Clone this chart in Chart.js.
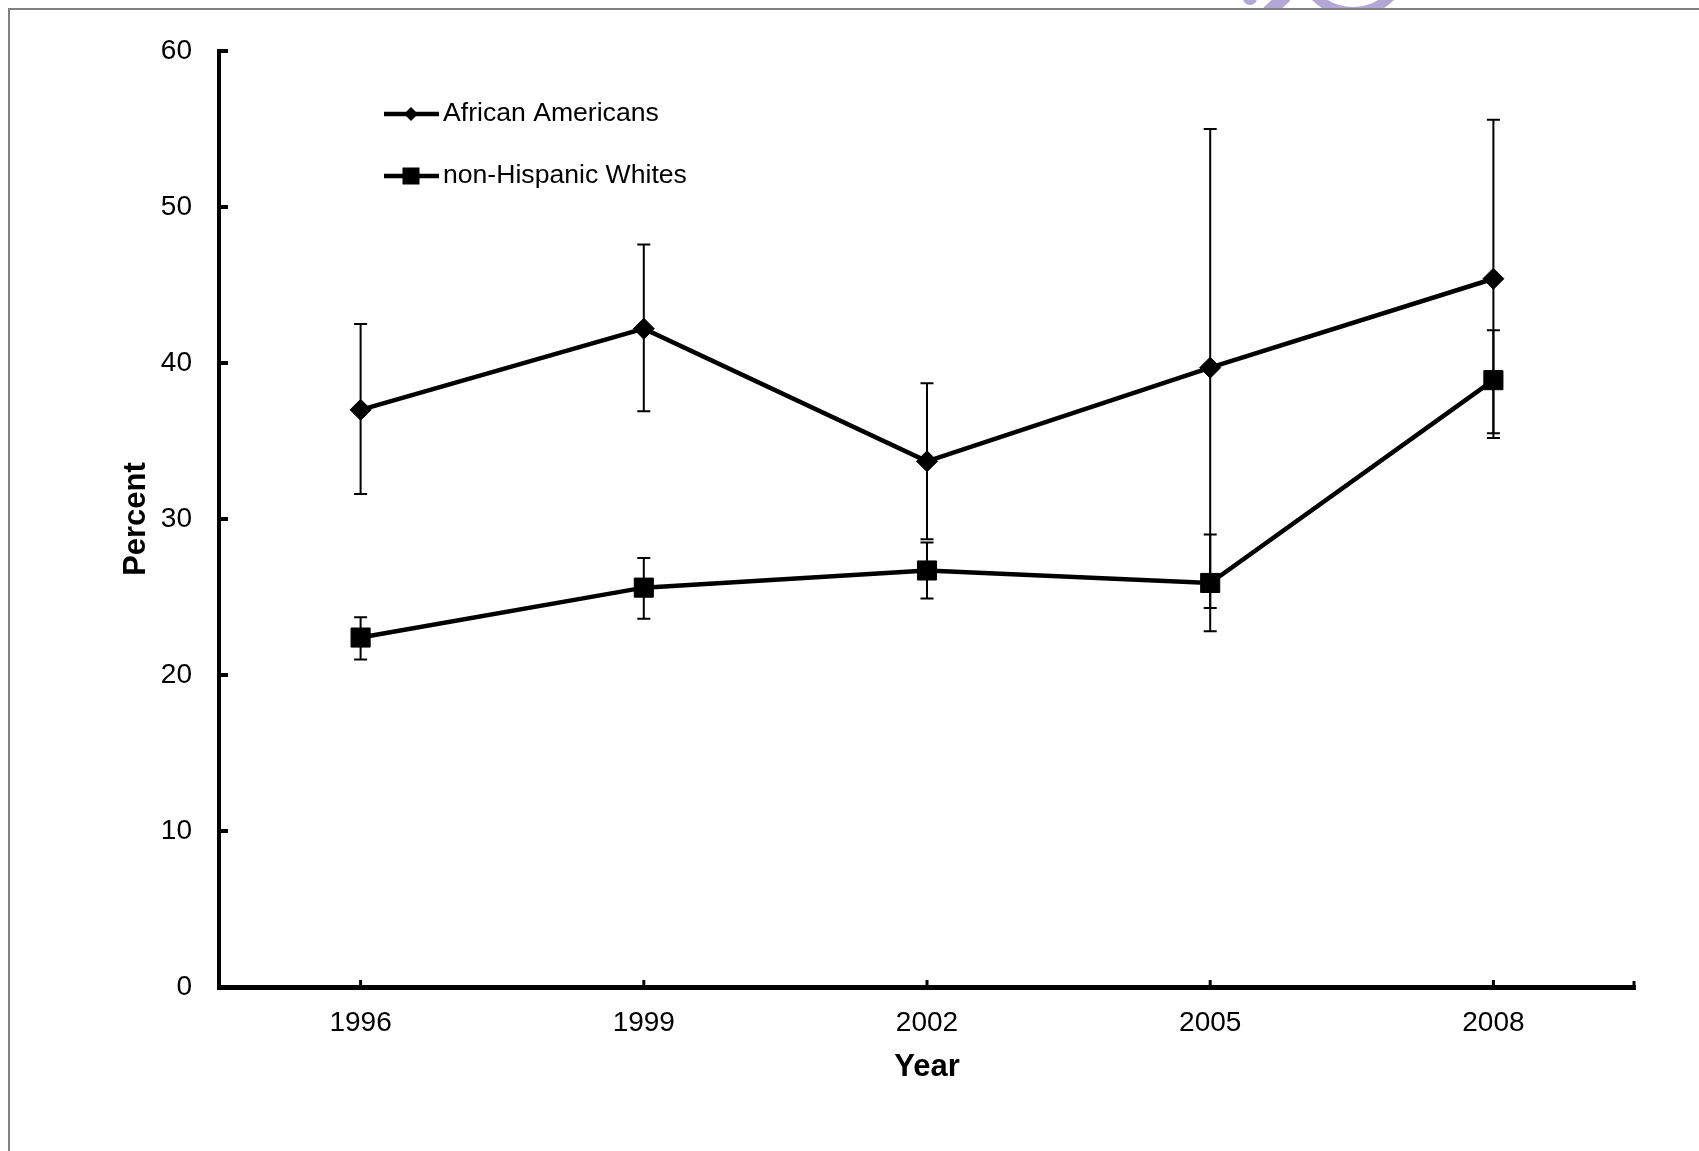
<!DOCTYPE html>
<html>
<head>
<meta charset="utf-8">
<title>Percent by Year</title>
<script src="https://cdn.jsdelivr.net/npm/chart.js@4/dist/chart.umd.min.js"></script>
<style>
  html, body { margin: 0; padding: 0; background: #fff; overflow: hidden; }
  #wrap { position: relative; width: 1699px; height: 1151px; }
  #frame { position: absolute; left: 8px; top: 8px; width: 1700px; height: 1200px;
           border-top: 2px solid #808080; border-left: 2px solid #808080; pointer-events: none; }
  canvas { display: block; }
</style>
</head>
<body>
<div id="wrap">
  <canvas id="chart" width="1699" height="1151"></canvas>
  <div id="frame"></div>
</div>
<script>
// --- data ---
const years = ['1996', '1999', '2002', '2005', '2008'];

const aaValues = [37.0, 42.2, 33.7, 39.7, 45.4];
const aaLow    = [31.6, 36.9, 28.7, 24.3, 35.2];
const aaHigh   = [42.5, 47.6, 38.7, 55.0, 55.6];

const nhwValues = [22.4, 25.6, 26.7, 25.9, 38.9];
const nhwLow    = [21.0, 23.6, 24.9, 22.8, 35.5];
const nhwHigh   = [23.7, 27.5, 28.5, 29.0, 42.1];

const yTicks = { min: 0, max: 60, step: 10 };

const FONT = '"Liberation Sans", Arial, sans-serif';
Chart.defaults.font.family = FONT;
Chart.defaults.color = '#000';

// faint purple watermark fragment at the top edge
const watermark = {
  id: 'watermark',
  beforeDraw(chart) {
    const ctx = chart.ctx;
    ctx.save();
    ctx.beginPath();
    ctx.rect(0, 0, chart.width, 9);
    ctx.clip();
    ctx.fillStyle = ctx.strokeStyle = '#b4a7d6';
    ctx.beginPath();
    ctx.arc(1250, -2, 7, 0, Math.PI * 2);
    ctx.fill();
    ctx.lineWidth = 13;
    ctx.beginPath();
    ctx.moveTo(1286, -4);
    ctx.lineTo(1268, 12);
    ctx.stroke();
    ctx.lineWidth = 10;
    ctx.beginPath();
    ctx.arc(1353, -41, 53, 0, Math.PI);
    ctx.stroke();
    ctx.restore();
  }
};

// vertical confidence bars with caps
const errorBars = {
  id: 'errorBars',
  beforeDatasetsDraw(chart) {
    const ctx = chart.ctx, y = chart.scales.y;
    const ranges = [[aaLow, aaHigh], [nhwLow, nhwHigh]];
    ctx.save();
    ctx.strokeStyle = '#000';
    ctx.lineWidth = 2;
    ranges.forEach(([lo, hi], di) => {
      chart.getDatasetMeta(di).data.forEach((pt, i) => {
        const top = y.getPixelForValue(hi[i]);
        const bot = y.getPixelForValue(lo[i]);
        ctx.beginPath();
        ctx.moveTo(pt.x, top); ctx.lineTo(pt.x, bot);
        ctx.moveTo(pt.x - 6.5, top); ctx.lineTo(pt.x + 6.5, top);
        ctx.moveTo(pt.x - 6.5, bot); ctx.lineTo(pt.x + 6.5, bot);
        ctx.stroke();
      });
    });
    ctx.restore();
  }
};

// inward tick marks, like the original
const innerTicks = {
  id: 'innerTicks',
  afterDraw(chart) {
    const ctx = chart.ctx, a = chart.chartArea;
    const x = chart.scales.x, y = chart.scales.y;
    ctx.save();
    ctx.strokeStyle = '#000';
    ctx.lineWidth = 4;
    y.ticks.forEach((t, i) => {
      const py = y.getPixelForTick(i);
      ctx.beginPath(); ctx.moveTo(a.left, py); ctx.lineTo(a.left + 9, py); ctx.stroke();
    });
    ctx.lineWidth = 3;
    x.ticks.forEach((t, i) => {
      const px = x.getPixelForTick(i);
      ctx.beginPath(); ctx.moveTo(px, a.bottom); ctx.lineTo(px, a.bottom - 7); ctx.stroke();
    });
    ctx.beginPath(); ctx.moveTo(a.right - 1, a.bottom); ctx.lineTo(a.right - 1, a.bottom - 6); ctx.stroke();
    ctx.restore();
  }
};

// legend: line - marker - line, then label
const lineLegend = {
  id: 'lineLegend',
  afterDraw(chart) {
    const ctx = chart.ctx;
    const rows = [
      { text: chart.data.datasets[0].label, y: 114, shape: 'diamond' },
      { text: chart.data.datasets[1].label, y: 176, shape: 'square' }
    ];
    ctx.save();
    rows.forEach(r => {
      ctx.strokeStyle = ctx.fillStyle = '#000';
      ctx.lineWidth = 4.5;
      ctx.beginPath(); ctx.moveTo(384, r.y); ctx.lineTo(439, r.y); ctx.stroke();
      ctx.beginPath();
      if (r.shape === 'diamond') {
        ctx.moveTo(411, r.y - 7); ctx.lineTo(418, r.y);
        ctx.lineTo(411, r.y + 7); ctx.lineTo(404, r.y);
        ctx.closePath(); ctx.fill();
      } else {
        ctx.fillRect(402.5, r.y - 8.5, 17, 17);
      }
      ctx.font = '26.6px ' + FONT;
      ctx.textBaseline = 'middle';
      ctx.textAlign = 'left';
      ctx.fillText(r.text, 443, r.y);
    });
    ctx.restore();
  }
};

new Chart(document.getElementById('chart'), {
  type: 'line',
  data: {
    labels: years,
    datasets: [
      {
        label: 'African Americans',
        data: aaValues,
        borderColor: '#000', backgroundColor: '#000',
        borderWidth: 4.5, tension: 0,
        pointStyle: 'rectRot', pointRadius: 10.5, pointBorderWidth: 1
      },
      {
        label: 'non-Hispanic Whites',
        data: nhwValues,
        borderColor: '#000', backgroundColor: '#000',
        borderWidth: 4.5, tension: 0,
        pointStyle: 'rect', pointRadius: 13.5, pointBorderWidth: 1
      }
    ]
  },
  options: {
    responsive: false,
    animation: false,
    events: [],
    layout: { padding: { top: 51, right: 64, left: 0, bottom: 0 } },
    plugins: { legend: { display: false }, tooltip: { enabled: false } },
    scales: {
      x: {
        type: 'category',
        offset: true,
        afterFit: s => { s.height = 164; },
        grid: { display: false, drawTicks: false },
        border: { display: true, color: '#000', width: 5 },
        ticks: { font: { size: 28 }, color: '#000', padding: 19 },
        title: { display: true, text: 'Year', color: '#000',
                 font: { size: 31, weight: 'bold' }, padding: { top: 0, bottom: 65 } }
      },
      y: {
        min: yTicks.min, max: yTicks.max,
        afterFit: s => { s.width = 219; },
        grid: { display: false, drawTicks: false },
        border: { display: true, color: '#000', width: 4 },
        ticks: { stepSize: yTicks.step, font: { size: 28 }, color: '#000', padding: 27 },
        title: { display: true, text: 'Percent', color: '#000',
                 font: { size: 31, weight: 'bold' }, padding: { top: 118, bottom: 0 } }
      }
    }
  },
  plugins: [watermark, errorBars, innerTicks, lineLegend]
});
</script>
</body>
</html>
